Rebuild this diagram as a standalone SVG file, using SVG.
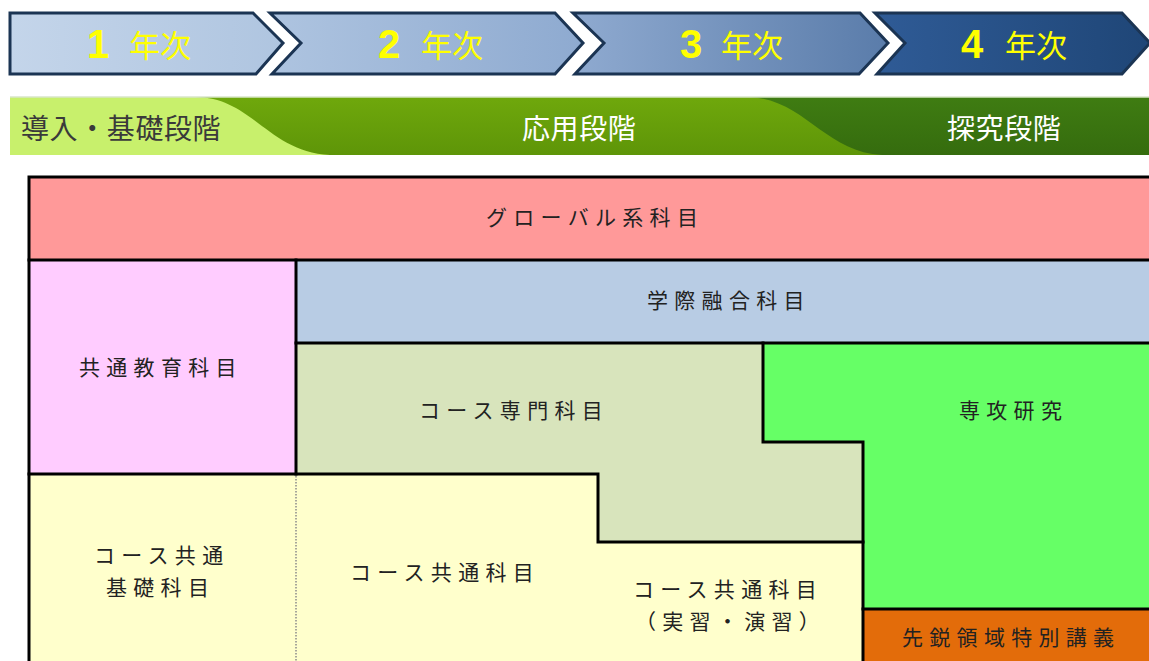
<svg xmlns="http://www.w3.org/2000/svg" width="1149" height="661" viewBox="0 0 1149 661">
<defs>
<linearGradient id="g1" x1="0" y1="0" x2="1" y2="0"><stop offset="0" stop-color="#C4D5EA"/><stop offset="1" stop-color="#AFC5E0"/></linearGradient>
<linearGradient id="g2" x1="0" y1="0" x2="1" y2="0"><stop offset="0" stop-color="#AEC4E0"/><stop offset="1" stop-color="#8EAAD0"/></linearGradient>
<linearGradient id="g3" x1="0" y1="0" x2="1" y2="0"><stop offset="0" stop-color="#8FAAD0"/><stop offset="1" stop-color="#5A7CAA"/></linearGradient>
<linearGradient id="g4" x1="0" y1="0" x2="1" y2="0"><stop offset="0" stop-color="#2F5B96"/><stop offset="1" stop-color="#1F4677"/></linearGradient>
<linearGradient id="gm" x1="0" y1="0" x2="0" y2="1"><stop offset="0" stop-color="#6FA80C"/><stop offset="1" stop-color="#5E9508"/></linearGradient>
<linearGradient id="gd" x1="0" y1="0" x2="0" y2="1"><stop offset="0" stop-color="#3F7C12"/><stop offset="1" stop-color="#356C0E"/></linearGradient>
</defs>
<style>
.chev{stroke:#1B3453;stroke-width:3;stroke-linejoin:miter}
.num{font-family:"Liberation Sans",Arial,sans-serif;font-weight:bold;font-size:40px;fill:#FFFF00;text-anchor:middle}
.yr{font-family:"Noto Sans CJK JP",sans-serif;font-size:31px;fill:#FFFF00;text-anchor:middle}
.stage{font-family:"Noto Sans CJK JP",sans-serif;font-size:28px;letter-spacing:0.6px}
.cell{font-family:"Noto Sans CJK JP",sans-serif;font-size:21px;letter-spacing:6.3px;fill:#222}
.ln{stroke:#000;stroke-width:3;fill:none;stroke-linecap:square}
</style>
<rect width="1149" height="661" fill="#FFFFFF"/>

<g id="year1"><path class="chev" d="M10,13 H253 L283,43 L256,74 H10 Z" fill="url(#g1)"/><text class="num" x="98" y="58">1</text><text class="yr" x="160" y="57">年次</text></g>
<g id="year2"><path class="chev" d="M270,13 H555 L583,43 L555,74 H272 L301,43 Z" fill="url(#g2)"/><text class="num" x="389" y="58">2</text><text class="yr" x="452" y="57">年次</text></g>
<g id="year3"><path class="chev" d="M573,13 H860 L888,43 L859,74 H575 L604,43 Z" fill="url(#g3)"/><text class="num" x="691" y="58">3</text><text class="yr" x="752" y="57">年次</text></g>
<g id="year4"><path class="chev" d="M875,13 H1122 L1150,43 L1122,74 H877 L905,43 Z" fill="url(#g4)"/><text class="num" x="972" y="58">4</text><text class="yr" x="1036" y="57">年次</text></g>

<g id="stages">
<rect x="10" y="97" width="1139" height="58" fill="url(#gm)"/>
<path d="M750,97 H1149 V155 H882 C825,152 805,100 750,97 Z" fill="url(#gd)"/>
<path d="M10,97 H195 C252,97 268,152 330,155 H10 Z" fill="#C8F06C"/>
<line x1="10" y1="97" x2="1149" y2="97" stroke="#D9E6C8" stroke-width="1.5"/>
<text class="stage" x="21" y="139" fill="#3A3A3A">導入・基礎段階</text>
<text class="stage" x="522" y="139" fill="#FFFFFF">応用段階</text>
<text class="stage" x="947" y="139" fill="#FFFFFF">探究段階</text>
</g>

<g id="global"><rect x="29" y="177" width="1125" height="83" fill="#FF9999"/><text class="cell" x="486" y="225">グローバル系科目</text></g>
<g id="kyoutsu"><rect x="29" y="260" width="267" height="214" fill="#FFCCFF"/><text class="cell" x="79" y="375">共通教育科目</text></g>
<g id="gakusai"><rect x="296" y="260" width="858" height="83" fill="#B8CCE4"/><text class="cell" x="647" y="308">学際融合科目</text></g>
<g id="senmon"><path d="M296,343 H763 V442 H863 V542 H598 V474 H296 Z" fill="#D8E4BC"/><text class="cell" x="419" y="418">コース専門科目</text></g>
<g id="senkou"><path d="M763,343 H1154 V609 H863 V442 H763 Z" fill="#66FF66"/><text class="cell" x="959" y="418">専攻研究</text></g>
<g id="sen-ei"><rect x="863" y="609" width="291" height="60" fill="#E36C0A"/><text class="cell" x="902" y="645">先鋭領域特別講義</text></g>
<g id="kiso"><rect x="29" y="474" width="267" height="195" fill="#FFFFCC"/><text class="cell" x="94" y="563">コース共通</text><text class="cell" x="106" y="595">基礎科目</text></g>
<g id="course-common"><path d="M296,474 H598 V542 H863 V669 H296 Z" fill="#FFFFCC"/><text class="cell" x="350" y="580">コース共通科目</text><text class="cell" x="633" y="597">コース共通科目</text><text class="cell" x="635" y="629">（実習・演習）</text></g>

<g id="connectors">
<path class="ln" d="M29,669 V177 H1154"/>
<path class="ln" d="M29,260 H1154"/>
<path class="ln" d="M296,260 V474"/>
<path class="ln" d="M296,343 H1154"/>
<path class="ln" d="M29,474 H598 V542 H863"/>
<path class="ln" d="M763,343 V442 H863 V669"/>
<path class="ln" d="M863,609 H1154"/>
<line x1="296" y1="476" x2="296" y2="661" stroke="#8A8A8A" stroke-width="1.5" stroke-dasharray="1.5 1.5"/>
</g>
</svg>
